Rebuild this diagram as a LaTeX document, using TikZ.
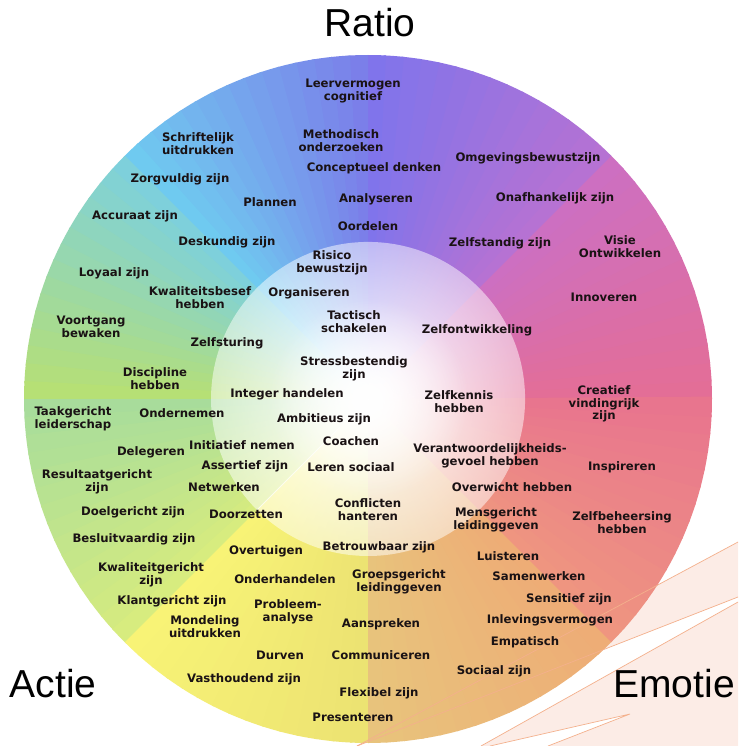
\documentclass[tikz,border=0pt]{standalone}
\usepackage{fontspec}
\usetikzlibrary{fadings}

\newfontfamily\compfamily{DejaVu Sans}
\newfontfamily\polefamily{Liberation Sans}

% Wheel colours (start / end of each wedge)
\definecolor{magA}{HTML}{E46E96}
\definecolor{magB}{HTML}{CC6FC2}
\definecolor{vioA}{HTML}{B872D2}
\definecolor{vioB}{HTML}{7E74EC}
\definecolor{bluA}{HTML}{7B7DE9}
\definecolor{bluB}{HTML}{6FCCF0}
\definecolor{teaA}{HTML}{7CD0DE}
\definecolor{teaB}{HTML}{B8E072}
\definecolor{grnA}{HTML}{A6DC9C}
\definecolor{grnB}{HTML}{D8EC7E}
\definecolor{yelA}{HTML}{F8F476}
\definecolor{yelB}{HTML}{ECE272}
\definecolor{sanA}{HTML}{E8C47C}
\definecolor{sanB}{HTML}{EEAC76}
\definecolor{pnkA}{HTML}{EF9680}
\definecolor{pnkB}{HTML}{E8748E}
\definecolor{ink}{HTML}{1A1214}
\definecolor{blush}{HTML}{FCECE6}
\definecolor{streak}{HTML}{F4B08C}

\tikzfading[name=glow, inner color=transparent!0, outer color=transparent!50]
\tikzfading[name=core, inner color=transparent!0, outer color=transparent!100]

\tikzset{
  comp/.style={font=\compfamily\bfseries\fontsize{11.7}{12.8}\selectfont,
    text=ink, align=center, inner sep=0pt},
  pole/.style={font=\polefamily\fontsize{39}{39}\selectfont,
    text=black, anchor=base, inner sep=0pt},
  streakline/.style={draw=streak, line width=0.7pt}
}

\begin{document}
\begin{tikzpicture}[x=1pt, y=-1pt]
	\def\rimradius{344}
	\def\coreradius{157}
	\coordinate (c) at (368,399);

	% Canvas
	\useasboundingbox (0,0) rectangle (738,746);
	\fill[white] (0,0) rectangle (738,746);

	% Swooshes, bottom right
	\fill[blush] (357,746) -- (738,542) -- (738,597) -- cycle;
	\fill[blush] (481,746) -- (738,602) -- (738,746) -- cycle;
	\fill[white] (490,746) -- (630,714) -- (548,746) -- cycle;

	% Colour wheel: 8 wedges of 45 degrees, 15 slices each
	\foreach \sa/\ca/\cb in {0/magA/magB, 45/vioA/vioB, 90/bluA/bluB, 135/teaA/teaB,
			180/grnA/grnB, 225/yelA/yelB, 270/sanA/sanB, 315/pnkA/pnkB} {
			\foreach \i in {0,...,14} {
					\pgfmathtruncatemacro\mixp{round(100*(\i+0.5)/15)}
					\pgfmathsetmacro\ta{-(\sa+3*\i)}
					\pgfmathsetmacro\tb{\ta-3.4}
					\fill[fill=\cb!\mixp!\ca] (c) -- ++(\ta:\rimradius)
						arc[start angle=\ta, end angle=\tb, radius=\rimradius] -- cycle;
				}
		}

	% Inner circle
	\fill[white, path fading=glow] (c) circle[radius=\coreradius];
	\fill[white, path fading=core] (c) circle[radius=100];
	\draw[white, opacity=0.7, line width=1pt] (c) ++(135:40) -- ++(135:117);

	% Streaks
	\draw[streakline] (357,746) -- (738,542);
	\draw[streakline] (357,746) -- (738,597);
	\draw[streakline] (481,746) -- (738,602);
	\draw[streakline] (490,746) -- (630,714) -- (548,746);

	% Ratio side
	\node[comp] (leervermogen) at (353,91) {Leervermogen\\cognitief};
	\node[comp] (schriftelijk) at (198,144) {Schriftelijk\\uitdrukken};
	\node[comp] (methodisch) at (341,141) {Methodisch\\onderzoeken};
	\node[comp] (conceptueel) at (374,168) {Conceptueel denken};
	\node[comp] (omgeving) at (528,158) {Omgevingsbewustzijn};
	\node[comp] (zorgvuldig) at (180,179) {Zorgvuldig zijn};
	\node[comp] (plannen) at (270,202) {Plannen};
	\node[comp] (analyseren) at (376,199) {Analyseren};
	\node[comp] (onafhankelijk) at (555,198) {Onafhankelijk zijn};
	\node[comp] (accuraat) at (135,216) {Accuraat zijn};
	\node[comp] (oordelen) at (368,226) {Oordelen};
	\node[comp] (deskundig) at (227,242) {Deskundig zijn};
	\node[comp] (zelfstandig) at (500,243) {Zelfstandig zijn};
	\node[comp] (visie) at (620,247) {Visie\\Ontwikkelen};
	\node[comp] (risico) at (332,263) {Risico\\bewustzijn};
	\node[comp] (loyaal) at (114,273) {Loyaal zijn};
	\node[comp] (kwaliteitsbesef) at (200,298) {Kwaliteitsbesef\\hebben};
	\node[comp] (organiseren) at (309,293) {Organiseren};
	\node[comp] (innoveren) at (604,297) {Innoveren};
	\node[comp] (tactisch) at (354,322) {Tactisch\\schakelen};
	\node[comp] (voortgang) at (91,327) {Voortgang\\bewaken};
	\node[comp] (zelfontwikkeling) at (477,330) {Zelfontwikkeling};
	\node[comp] (zelfsturing) at (227,343) {Zelfsturing};
	\node[comp] (stress) at (354,369) {Stressbestendig\\zijn};
	\node[comp] (discipline) at (155,379) {Discipline\\hebben};
	\node[comp] (integer) at (287,394) {Integer handelen};
	\node[comp] (zelfkennis) at (459,402) {Zelfkennis\\hebben};
	\node[comp] (creatief) at (604,404) {Creatief\\vindingrijk\\zijn};

	% Actie and Emotie side
	\node[comp] (taakgericht) at (73,419) {Taakgericht\\leiderschap};
	\node[comp] (ondernemen) at (182,413) {Ondernemen};
	\node[comp] (ambitieus) at (324,419) {Ambitieus zijn};
	\node[comp] (coachen) at (351,441) {Coachen};
	\node[comp] (initiatief) at (242,445) {Initiatief nemen};
	\node[comp] (delegeren) at (151,452) {Delegeren};
	\node[comp] (verantwoordelijk) at (490,456) {Verantwoordelijkheids-\\gevoel hebben};
	\node[comp] (inspireren) at (622,467) {Inspireren};
	\node[comp] (assertief) at (245,466) {Assertief zijn};
	\node[comp] (leren) at (351,467) {Leren sociaal};
	\node[comp] (resultaat) at (97,482) {Resultaatgericht\\zijn};
	\node[comp] (netwerken) at (224,487) {Netwerken};
	\node[comp] (overwicht) at (512,487) {Overwicht hebben};
	\node[comp] (conflicten) at (368,510) {Conflicten\\hanteren};
	\node[comp] (doelgericht) at (133,512) {Doelgericht zijn};
	\node[comp] (doorzetten) at (246,514) {Doorzetten};
	\node[comp] (mensgericht) at (496,520) {Mensgericht\\leidinggeven};
	\node[comp] (zelfbeheersing) at (622,523) {Zelfbeheersing\\hebben};
	\node[comp] (besluitvaardig) at (134,539) {Besluitvaardig zijn};
	\node[comp] (betrouwbaar) at (379,547) {Betrouwbaar zijn};
	\node[comp] (overtuigen) at (266,551) {Overtuigen};
	\node[comp] (luisteren) at (508,556) {Luisteren};
	\node[comp] (kwaliteitgericht) at (151,575) {Kwaliteitgericht\\zijn};
	\node[comp] (onderhandelen) at (285,579) {Onderhandelen};
	\node[comp] (groepsgericht) at (399,582) {Groepsgericht\\leidinggeven};
	\node[comp] (samenwerken) at (539,576) {Samenwerken};
	\node[comp] (klantgericht) at (172,601) {Klantgericht zijn};
	\node[comp] (probleem) at (288,612) {Probleem-\\analyse};
	\node[comp] (sensitief) at (569,599) {Sensitief zijn};
	\node[comp] (mondeling) at (205,627) {Mondeling\\uitdrukken};
	\node[comp] (aanspreken) at (381,624) {Aanspreken};
	\node[comp] (inleving) at (550,620) {Inlevingsvermogen};
	\node[comp] (empatisch) at (525,642) {Empatisch};
	\node[comp] (durven) at (280,655) {Durven};
	\node[comp] (communiceren) at (381,655) {Communiceren};
	\node[comp] (sociaal) at (494,671) {Sociaal zijn};
	\node[comp] (vasthoudend) at (244,679) {Vasthoudend zijn};
	\node[comp] (flexibel) at (379,693) {Flexibel zijn};
	\node[comp] (presenteren) at (353,717) {Presenteren};

	% Poles
	\node[pole] (ratio) at (370,37) {Ratio};
	\node[pole] (actie) at (53,697) {Actie};
	\node[pole] (emotie) at (674,697) {Emotie};
\end{tikzpicture}
\end{document}
